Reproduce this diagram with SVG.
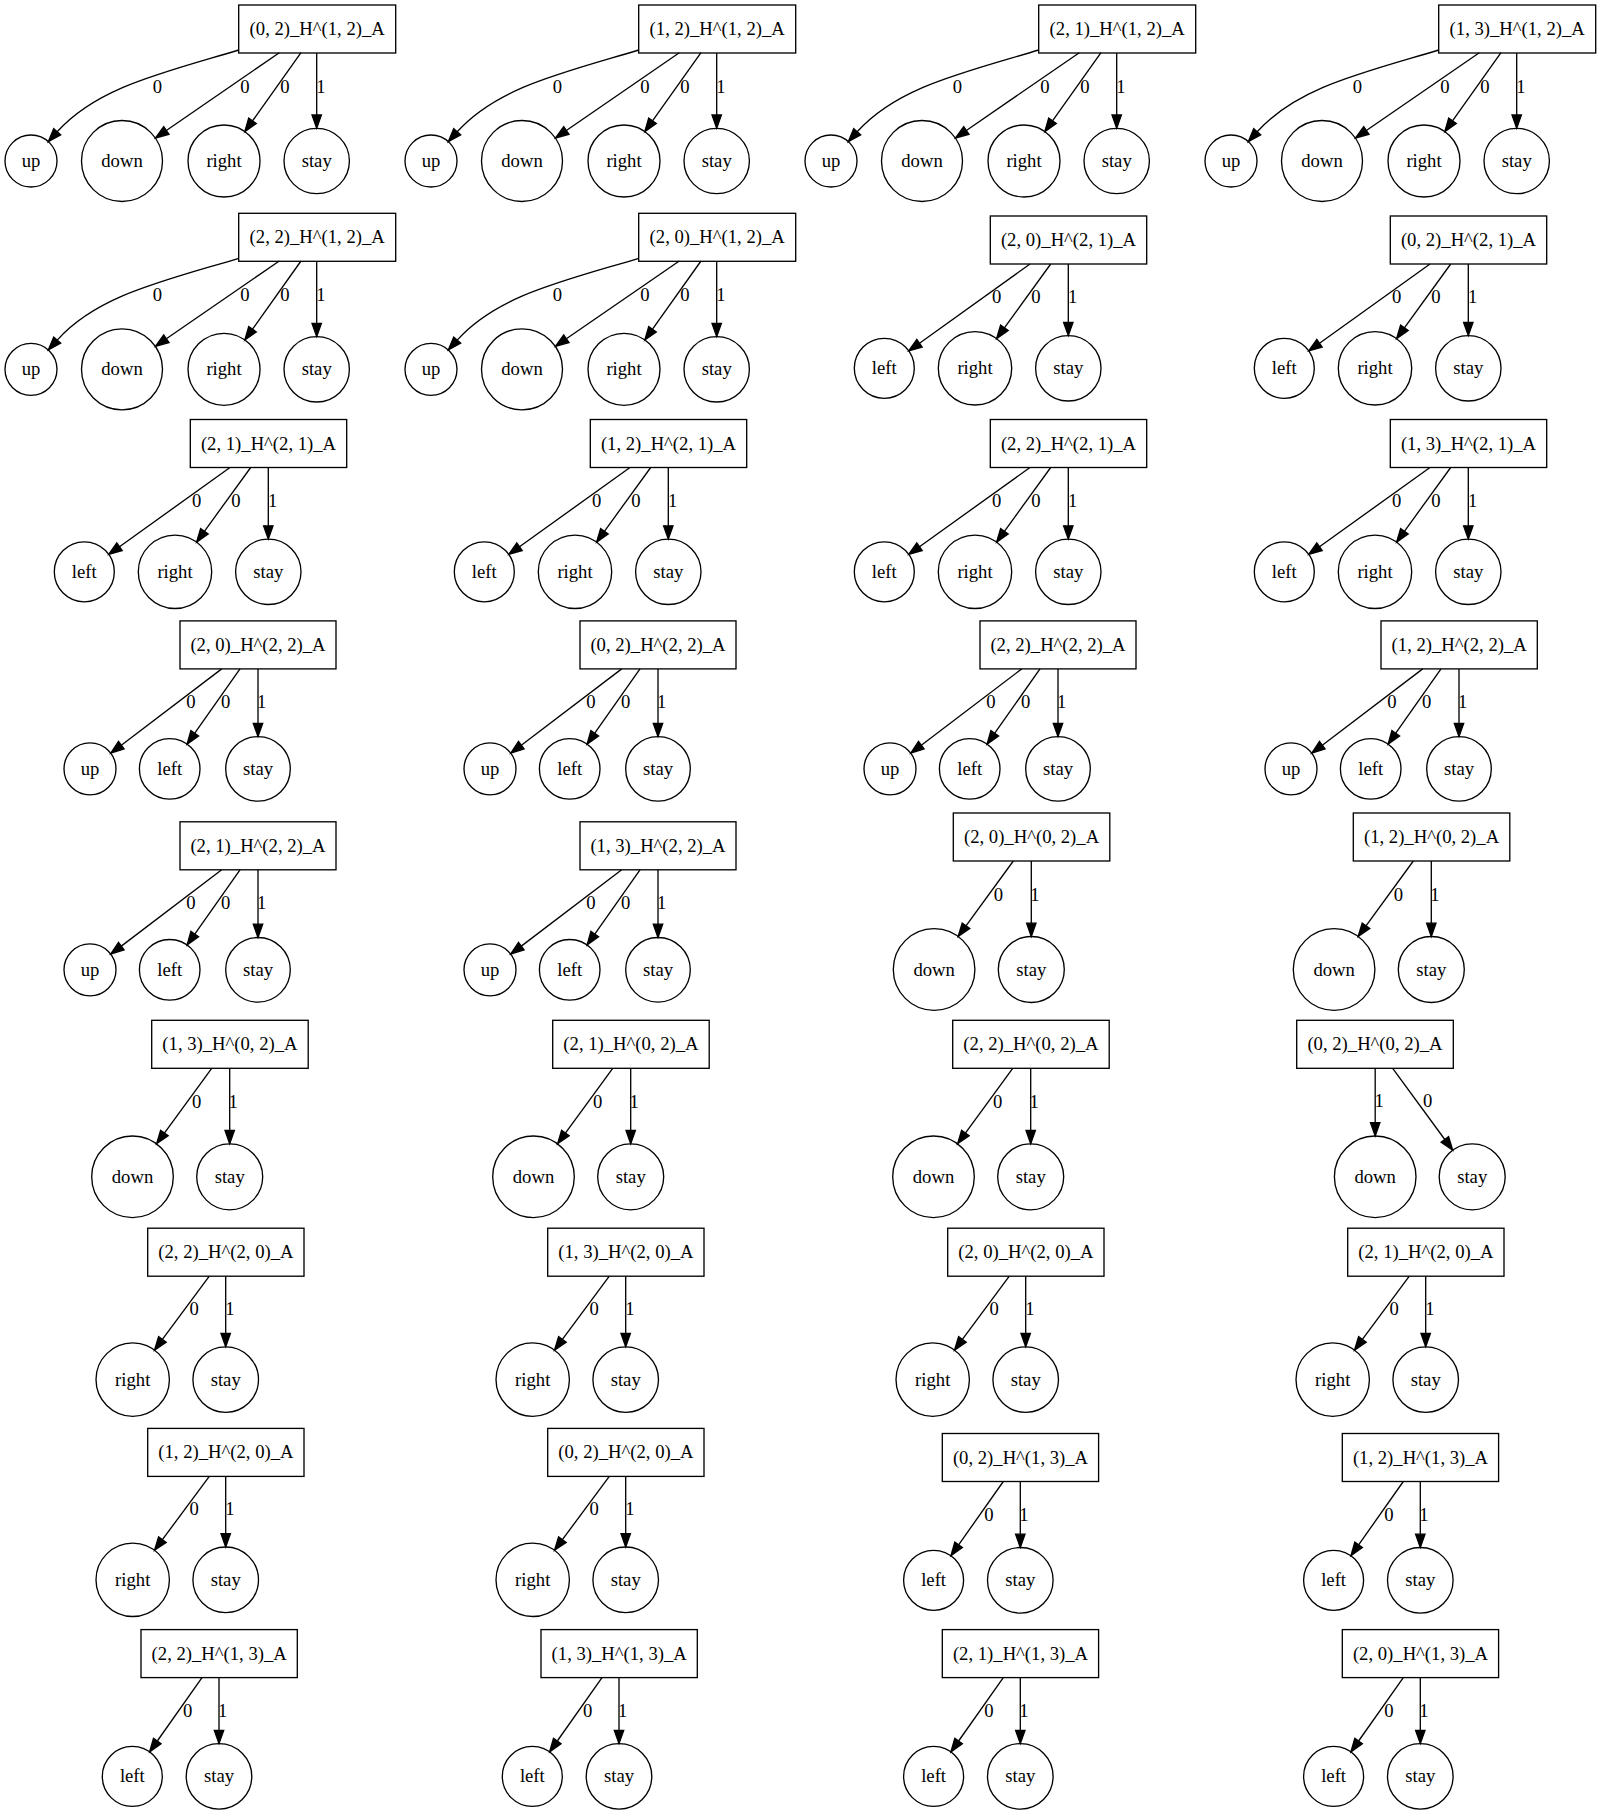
<svg xmlns="http://www.w3.org/2000/svg" width="1601" height="1815" viewBox="0 0 1601 1815">
<style>
.n rect,.n circle{fill:none;stroke:#000;stroke-width:1.33}
text{font-family:"Liberation Serif","Times New Roman",serif;font-size:18.67px;text-anchor:middle;fill:#000}
.e path{fill:none;stroke:#000;stroke-width:1.33}
.e polygon{fill:#000;stroke:#000;stroke-width:1.33}
</style>
<rect width="1601" height="1815" fill="#fff"/>
<g id="nodes">
<!-- T4 trees -->
<g id="c1r1" transform="translate(238.7,5)">
<g id="c1r1-root" class="n"><rect width="157" height="48"/><text x="78.5" y="30">(0, 2)_H^(1, 2)_A</text></g>
<g id="c1r1-up" class="n"><circle cx="-207.7" cy="156" r="26"/><text x="-207.7" y="162">up</text></g>
<g id="c1r1-down" class="n"><circle cx="-116.7" cy="156" r="40.5"/><text x="-116.7" y="162">down</text></g>
<g id="c1r1-right" class="n"><circle cx="-14.7" cy="156" r="36"/><text x="-14.7" y="162">right</text></g>
<g id="c1r1-stay" class="n"><circle cx="78" cy="156" r="32.7"/><text x="78" y="162">stay</text></g>
</g>
<g id="c1r2" transform="translate(238.7,213.3)">
<g id="c1r2-root" class="n"><rect width="157" height="48"/><text x="78.5" y="30">(2, 2)_H^(1, 2)_A</text></g>
<g id="c1r2-up" class="n"><circle cx="-207.7" cy="156" r="26"/><text x="-207.7" y="162">up</text></g>
<g id="c1r2-down" class="n"><circle cx="-116.7" cy="156" r="40.5"/><text x="-116.7" y="162">down</text></g>
<g id="c1r2-right" class="n"><circle cx="-14.7" cy="156" r="36"/><text x="-14.7" y="162">right</text></g>
<g id="c1r2-stay" class="n"><circle cx="78" cy="156" r="32.7"/><text x="78" y="162">stay</text></g>
</g>
<g id="c2r1" transform="translate(638.7,5)">
<g id="c2r1-root" class="n"><rect width="157" height="48"/><text x="78.5" y="30">(1, 2)_H^(1, 2)_A</text></g>
<g id="c2r1-up" class="n"><circle cx="-207.7" cy="156" r="26"/><text x="-207.7" y="162">up</text></g>
<g id="c2r1-down" class="n"><circle cx="-116.7" cy="156" r="40.5"/><text x="-116.7" y="162">down</text></g>
<g id="c2r1-right" class="n"><circle cx="-14.7" cy="156" r="36"/><text x="-14.7" y="162">right</text></g>
<g id="c2r1-stay" class="n"><circle cx="78" cy="156" r="32.7"/><text x="78" y="162">stay</text></g>
</g>
<g id="c2r2" transform="translate(638.7,213.3)">
<g id="c2r2-root" class="n"><rect width="157" height="48"/><text x="78.5" y="30">(2, 0)_H^(1, 2)_A</text></g>
<g id="c2r2-up" class="n"><circle cx="-207.7" cy="156" r="26"/><text x="-207.7" y="162">up</text></g>
<g id="c2r2-down" class="n"><circle cx="-116.7" cy="156" r="40.5"/><text x="-116.7" y="162">down</text></g>
<g id="c2r2-right" class="n"><circle cx="-14.7" cy="156" r="36"/><text x="-14.7" y="162">right</text></g>
<g id="c2r2-stay" class="n"><circle cx="78" cy="156" r="32.7"/><text x="78" y="162">stay</text></g>
</g>
<g id="c3r1" transform="translate(1038.7,5)">
<g id="c3r1-root" class="n"><rect width="157" height="48"/><text x="78.5" y="30">(2, 1)_H^(1, 2)_A</text></g>
<g id="c3r1-up" class="n"><circle cx="-207.7" cy="156" r="26"/><text x="-207.7" y="162">up</text></g>
<g id="c3r1-down" class="n"><circle cx="-116.7" cy="156" r="40.5"/><text x="-116.7" y="162">down</text></g>
<g id="c3r1-right" class="n"><circle cx="-14.7" cy="156" r="36"/><text x="-14.7" y="162">right</text></g>
<g id="c3r1-stay" class="n"><circle cx="78" cy="156" r="32.7"/><text x="78" y="162">stay</text></g>
</g>
<g id="c4r1" transform="translate(1438.7,5)">
<g id="c4r1-root" class="n"><rect width="157" height="48"/><text x="78.5" y="30">(1, 3)_H^(1, 2)_A</text></g>
<g id="c4r1-up" class="n"><circle cx="-207.7" cy="156" r="26"/><text x="-207.7" y="162">up</text></g>
<g id="c4r1-down" class="n"><circle cx="-116.7" cy="156" r="40.5"/><text x="-116.7" y="162">down</text></g>
<g id="c4r1-right" class="n"><circle cx="-14.7" cy="156" r="36"/><text x="-14.7" y="162">right</text></g>
<g id="c4r1-stay" class="n"><circle cx="78" cy="156" r="32.7"/><text x="78" y="162">stay</text></g>
</g>
<!-- T3a trees: left right stay -->
<g id="c1r3" transform="translate(190.3,419.5)">
<g id="c1r3-root" class="n"><rect width="156.4" height="48"/><text x="78.2" y="30">(2, 1)_H^(2, 1)_A</text></g>
<g id="c1r3-left" class="n"><circle cx="-106" cy="152.3" r="30"/><text x="-106" y="158.3">left</text></g>
<g id="c1r3-right" class="n"><circle cx="-15.3" cy="152.3" r="36.7"/><text x="-15.3" y="158.3">right</text></g>
<g id="c1r3-stay" class="n"><circle cx="78" cy="152.3" r="32.7"/><text x="78" y="158.3">stay</text></g>
</g>
<g id="c2r3" transform="translate(590.3,419.5)">
<g id="c2r3-root" class="n"><rect width="156.4" height="48"/><text x="78.2" y="30">(1, 2)_H^(2, 1)_A</text></g>
<g id="c2r3-left" class="n"><circle cx="-106" cy="152.3" r="30"/><text x="-106" y="158.3">left</text></g>
<g id="c2r3-right" class="n"><circle cx="-15.3" cy="152.3" r="36.7"/><text x="-15.3" y="158.3">right</text></g>
<g id="c2r3-stay" class="n"><circle cx="78" cy="152.3" r="32.7"/><text x="78" y="158.3">stay</text></g>
</g>
<g id="c3r2" transform="translate(990.3,216)">
<g id="c3r2-root" class="n"><rect width="156.4" height="48"/><text x="78.2" y="30">(2, 0)_H^(2, 1)_A</text></g>
<g id="c3r2-left" class="n"><circle cx="-106" cy="152.3" r="30"/><text x="-106" y="158.3">left</text></g>
<g id="c3r2-right" class="n"><circle cx="-15.3" cy="152.3" r="36.7"/><text x="-15.3" y="158.3">right</text></g>
<g id="c3r2-stay" class="n"><circle cx="78" cy="152.3" r="32.7"/><text x="78" y="158.3">stay</text></g>
</g>
<g id="c3r3" transform="translate(990.3,419.5)">
<g id="c3r3-root" class="n"><rect width="156.4" height="48"/><text x="78.2" y="30">(2, 2)_H^(2, 1)_A</text></g>
<g id="c3r3-left" class="n"><circle cx="-106" cy="152.3" r="30"/><text x="-106" y="158.3">left</text></g>
<g id="c3r3-right" class="n"><circle cx="-15.3" cy="152.3" r="36.7"/><text x="-15.3" y="158.3">right</text></g>
<g id="c3r3-stay" class="n"><circle cx="78" cy="152.3" r="32.7"/><text x="78" y="158.3">stay</text></g>
</g>
<g id="c4r2" transform="translate(1390.3,216)">
<g id="c4r2-root" class="n"><rect width="156.4" height="48"/><text x="78.2" y="30">(0, 2)_H^(2, 1)_A</text></g>
<g id="c4r2-left" class="n"><circle cx="-106" cy="152.3" r="30"/><text x="-106" y="158.3">left</text></g>
<g id="c4r2-right" class="n"><circle cx="-15.3" cy="152.3" r="36.7"/><text x="-15.3" y="158.3">right</text></g>
<g id="c4r2-stay" class="n"><circle cx="78" cy="152.3" r="32.7"/><text x="78" y="158.3">stay</text></g>
</g>
<g id="c4r3" transform="translate(1390.3,419.5)">
<g id="c4r3-root" class="n"><rect width="156.4" height="48"/><text x="78.2" y="30">(1, 3)_H^(2, 1)_A</text></g>
<g id="c4r3-left" class="n"><circle cx="-106" cy="152.3" r="30"/><text x="-106" y="158.3">left</text></g>
<g id="c4r3-right" class="n"><circle cx="-15.3" cy="152.3" r="36.7"/><text x="-15.3" y="158.3">right</text></g>
<g id="c4r3-stay" class="n"><circle cx="78" cy="152.3" r="32.7"/><text x="78" y="158.3">stay</text></g>
</g>
<!-- T3b trees: up left stay -->
<g id="c1r4" transform="translate(180,620.9)">
<g id="c1r4-root" class="n"><rect width="156" height="48"/><text x="78" y="30">(2, 0)_H^(2, 2)_A</text></g>
<g id="c1r4-up" class="n"><circle cx="-90" cy="148" r="26"/><text x="-90" y="154">up</text></g>
<g id="c1r4-left" class="n"><circle cx="-10.3" cy="148" r="30.3"/><text x="-10.3" y="154">left</text></g>
<g id="c1r4-stay" class="n"><circle cx="78" cy="148" r="32.3"/><text x="78" y="154">stay</text></g>
</g>
<g id="c1r5" transform="translate(180,821.8)">
<g id="c1r5-root" class="n"><rect width="156" height="48"/><text x="78" y="30">(2, 1)_H^(2, 2)_A</text></g>
<g id="c1r5-up" class="n"><circle cx="-90" cy="148" r="26"/><text x="-90" y="154">up</text></g>
<g id="c1r5-left" class="n"><circle cx="-10.3" cy="148" r="30.3"/><text x="-10.3" y="154">left</text></g>
<g id="c1r5-stay" class="n"><circle cx="78" cy="148" r="32.3"/><text x="78" y="154">stay</text></g>
</g>
<g id="c2r4" transform="translate(580,620.9)">
<g id="c2r4-root" class="n"><rect width="156" height="48"/><text x="78" y="30">(0, 2)_H^(2, 2)_A</text></g>
<g id="c2r4-up" class="n"><circle cx="-90" cy="148" r="26"/><text x="-90" y="154">up</text></g>
<g id="c2r4-left" class="n"><circle cx="-10.3" cy="148" r="30.3"/><text x="-10.3" y="154">left</text></g>
<g id="c2r4-stay" class="n"><circle cx="78" cy="148" r="32.3"/><text x="78" y="154">stay</text></g>
</g>
<g id="c2r5" transform="translate(580,821.8)">
<g id="c2r5-root" class="n"><rect width="156" height="48"/><text x="78" y="30">(1, 3)_H^(2, 2)_A</text></g>
<g id="c2r5-up" class="n"><circle cx="-90" cy="148" r="26"/><text x="-90" y="154">up</text></g>
<g id="c2r5-left" class="n"><circle cx="-10.3" cy="148" r="30.3"/><text x="-10.3" y="154">left</text></g>
<g id="c2r5-stay" class="n"><circle cx="78" cy="148" r="32.3"/><text x="78" y="154">stay</text></g>
</g>
<g id="c3r4" transform="translate(980,620.9)">
<g id="c3r4-root" class="n"><rect width="156" height="48"/><text x="78" y="30">(2, 2)_H^(2, 2)_A</text></g>
<g id="c3r4-up" class="n"><circle cx="-90" cy="148" r="26"/><text x="-90" y="154">up</text></g>
<g id="c3r4-left" class="n"><circle cx="-10.3" cy="148" r="30.3"/><text x="-10.3" y="154">left</text></g>
<g id="c3r4-stay" class="n"><circle cx="78" cy="148" r="32.3"/><text x="78" y="154">stay</text></g>
</g>
<g id="c4r4" transform="translate(1381,620.9)">
<g id="c4r4-root" class="n"><rect width="156.3" height="48"/><text x="78.2" y="30">(1, 2)_H^(2, 2)_A</text></g>
<g id="c4r4-up" class="n"><circle cx="-90" cy="148" r="26"/><text x="-90" y="154">up</text></g>
<g id="c4r4-left" class="n"><circle cx="-10.3" cy="148" r="30.3"/><text x="-10.3" y="154">left</text></g>
<g id="c4r4-stay" class="n"><circle cx="78" cy="148" r="32.3"/><text x="78" y="154">stay</text></g>
</g>
<!-- T2 trees: down stay -->
<g id="c1r6" transform="translate(151.7,1020.3)">
<g id="c1r6-root" class="n"><rect width="156.5" height="48"/><text x="78.25" y="30">(1, 3)_H^(0, 2)_A</text></g>
<g id="c1r6-down" class="n"><circle cx="-19.2" cy="156.5" r="40.8"/><text x="-19.2" y="162.5">down</text></g>
<g id="c1r6-stay" class="n"><circle cx="78" cy="156.5" r="33"/><text x="78" y="162.5">stay</text></g>
</g>
<g id="c2r6" transform="translate(552.7,1020.3)">
<g id="c2r6-root" class="n"><rect width="156.5" height="48"/><text x="78.25" y="30">(2, 1)_H^(0, 2)_A</text></g>
<g id="c2r6-down" class="n"><circle cx="-19.2" cy="156.5" r="40.8"/><text x="-19.2" y="162.5">down</text></g>
<g id="c2r6-stay" class="n"><circle cx="78" cy="156.5" r="33"/><text x="78" y="162.5">stay</text></g>
</g>
<g id="c3r5" transform="translate(953.3,813)">
<g id="c3r5-root" class="n"><rect width="156.5" height="48"/><text x="78.25" y="30">(2, 0)_H^(0, 2)_A</text></g>
<g id="c3r5-down" class="n"><circle cx="-19.2" cy="156.5" r="40.8"/><text x="-19.2" y="162.5">down</text></g>
<g id="c3r5-stay" class="n"><circle cx="78" cy="156.5" r="33"/><text x="78" y="162.5">stay</text></g>
</g>
<g id="c3r6" transform="translate(952.7,1020.3)">
<g id="c3r6-root" class="n"><rect width="156.5" height="48"/><text x="78.25" y="30">(2, 2)_H^(0, 2)_A</text></g>
<g id="c3r6-down" class="n"><circle cx="-19.2" cy="156.5" r="40.8"/><text x="-19.2" y="162.5">down</text></g>
<g id="c3r6-stay" class="n"><circle cx="78" cy="156.5" r="33"/><text x="78" y="162.5">stay</text></g>
</g>
<g id="c4r5" transform="translate(1353.3,813)">
<g id="c4r5-root" class="n"><rect width="156.5" height="48"/><text x="78.25" y="30">(1, 2)_H^(0, 2)_A</text></g>
<g id="c4r5-down" class="n"><circle cx="-19.2" cy="156.5" r="40.8"/><text x="-19.2" y="162.5">down</text></g>
<g id="c4r5-stay" class="n"><circle cx="78" cy="156.5" r="33"/><text x="78" y="162.5">stay</text></g>
</g>
<!-- T2s special -->
<g id="c4r6" transform="translate(1296.7,1020.3)">
<g id="c4r6-root" class="n"><rect width="156.6" height="48"/><text x="78.3" y="30">(0, 2)_H^(0, 2)_A</text></g>
<g id="c4r6-down" class="n"><circle cx="78.5" cy="156.5" r="40.8"/><text x="78.5" y="162.5">down</text></g>
<g id="c4r6-stay" class="n"><circle cx="175.5" cy="156.5" r="33"/><text x="175.5" y="162.5">stay</text></g>
</g>
<!-- T2r trees: right stay -->
<g id="c1r7" transform="translate(147.7,1228.2)">
<g id="c1r7-root" class="n"><rect width="156.3" height="48"/><text x="78.2" y="30">(2, 2)_H^(2, 0)_A</text></g>
<g id="c1r7-right" class="n"><circle cx="-15" cy="151.4" r="36.7"/><text x="-15" y="157.4">right</text></g>
<g id="c1r7-stay" class="n"><circle cx="78" cy="151.4" r="32.8"/><text x="78" y="157.4">stay</text></g>
</g>
<g id="c1r8" transform="translate(147.7,1428.4)">
<g id="c1r8-root" class="n"><rect width="156.3" height="48"/><text x="78.2" y="30">(1, 2)_H^(2, 0)_A</text></g>
<g id="c1r8-right" class="n"><circle cx="-15" cy="151.4" r="36.7"/><text x="-15" y="157.4">right</text></g>
<g id="c1r8-stay" class="n"><circle cx="78" cy="151.4" r="32.8"/><text x="78" y="157.4">stay</text></g>
</g>
<g id="c2r7" transform="translate(547.7,1228.2)">
<g id="c2r7-root" class="n"><rect width="156.3" height="48"/><text x="78.2" y="30">(1, 3)_H^(2, 0)_A</text></g>
<g id="c2r7-right" class="n"><circle cx="-15" cy="151.4" r="36.7"/><text x="-15" y="157.4">right</text></g>
<g id="c2r7-stay" class="n"><circle cx="78" cy="151.4" r="32.8"/><text x="78" y="157.4">stay</text></g>
</g>
<g id="c2r8" transform="translate(547.7,1428.4)">
<g id="c2r8-root" class="n"><rect width="156.3" height="48"/><text x="78.2" y="30">(0, 2)_H^(2, 0)_A</text></g>
<g id="c2r8-right" class="n"><circle cx="-15" cy="151.4" r="36.7"/><text x="-15" y="157.4">right</text></g>
<g id="c2r8-stay" class="n"><circle cx="78" cy="151.4" r="32.8"/><text x="78" y="157.4">stay</text></g>
</g>
<g id="c3r7" transform="translate(947.7,1228.2)">
<g id="c3r7-root" class="n"><rect width="156.3" height="48"/><text x="78.2" y="30">(2, 0)_H^(2, 0)_A</text></g>
<g id="c3r7-right" class="n"><circle cx="-15" cy="151.4" r="36.7"/><text x="-15" y="157.4">right</text></g>
<g id="c3r7-stay" class="n"><circle cx="78" cy="151.4" r="32.8"/><text x="78" y="157.4">stay</text></g>
</g>
<g id="c4r7" transform="translate(1347.7,1228.2)">
<g id="c4r7-root" class="n"><rect width="156.3" height="48"/><text x="78.2" y="30">(2, 1)_H^(2, 0)_A</text></g>
<g id="c4r7-right" class="n"><circle cx="-15" cy="151.4" r="36.7"/><text x="-15" y="157.4">right</text></g>
<g id="c4r7-stay" class="n"><circle cx="78" cy="151.4" r="32.8"/><text x="78" y="157.4">stay</text></g>
</g>
<!-- T2l trees: left stay -->
<g id="c1r9" transform="translate(141,1629.6)">
<g id="c1r9-root" class="n"><rect width="156.3" height="48"/><text x="78.2" y="30">(2, 2)_H^(1, 3)_A</text></g>
<g id="c1r9-left" class="n"><circle cx="-8.7" cy="146.8" r="30"/><text x="-8.7" y="152.8">left</text></g>
<g id="c1r9-stay" class="n"><circle cx="78" cy="146.8" r="32.8"/><text x="78" y="152.8">stay</text></g>
</g>
<g id="c2r9" transform="translate(541,1629.6)">
<g id="c2r9-root" class="n"><rect width="156.3" height="48"/><text x="78.2" y="30">(1, 3)_H^(1, 3)_A</text></g>
<g id="c2r9-left" class="n"><circle cx="-8.7" cy="146.8" r="30"/><text x="-8.7" y="152.8">left</text></g>
<g id="c2r9-stay" class="n"><circle cx="78" cy="146.8" r="32.8"/><text x="78" y="152.8">stay</text></g>
</g>
<g id="c3r8" transform="translate(942.3,1433.5)">
<g id="c3r8-root" class="n"><rect width="156.3" height="48"/><text x="78.2" y="30">(0, 2)_H^(1, 3)_A</text></g>
<g id="c3r8-left" class="n"><circle cx="-8.7" cy="146.8" r="30"/><text x="-8.7" y="152.8">left</text></g>
<g id="c3r8-stay" class="n"><circle cx="78" cy="146.8" r="32.8"/><text x="78" y="152.8">stay</text></g>
</g>
<g id="c3r9" transform="translate(942.3,1629.6)">
<g id="c3r9-root" class="n"><rect width="156.3" height="48"/><text x="78.2" y="30">(2, 1)_H^(1, 3)_A</text></g>
<g id="c3r9-left" class="n"><circle cx="-8.7" cy="146.8" r="30"/><text x="-8.7" y="152.8">left</text></g>
<g id="c3r9-stay" class="n"><circle cx="78" cy="146.8" r="32.8"/><text x="78" y="152.8">stay</text></g>
</g>
<g id="c4r8" transform="translate(1342.3,1433.5)">
<g id="c4r8-root" class="n"><rect width="156.3" height="48"/><text x="78.2" y="30">(1, 2)_H^(1, 3)_A</text></g>
<g id="c4r8-left" class="n"><circle cx="-8.7" cy="146.8" r="30"/><text x="-8.7" y="152.8">left</text></g>
<g id="c4r8-stay" class="n"><circle cx="78" cy="146.8" r="32.8"/><text x="78" y="152.8">stay</text></g>
</g>
<g id="c4r9" transform="translate(1342.3,1629.6)">
<g id="c4r9-root" class="n"><rect width="156.3" height="48"/><text x="78.2" y="30">(2, 0)_H^(1, 3)_A</text></g>
<g id="c4r9-left" class="n"><circle cx="-8.7" cy="146.8" r="30"/><text x="-8.7" y="152.8">left</text></g>
<g id="c4r9-stay" class="n"><circle cx="78" cy="146.8" r="32.8"/><text x="78" y="152.8">stay</text></g>
</g>
</g>
<g id="connectors" class="e">
<!-- T4 -->
<g transform="translate(238.7,5)">
<path d="M0,45 C-76.6,68.1 -141.4,82.1 -181.5,126.8"/><polygon points="-190.4,136.7 -178,129.9 -185,123.7"/><text x="-81.4" y="87.5">0</text>
<path d="M40.6,47.7 L-72.35,125.5"/><polygon points="-83.3,133 -69.7,129.3 -75,121.6"/><text x="6.3" y="87.5">0</text>
<path d="M62.3,47.7 L13.8,115.9"/><polygon points="6.1,126.7 17.6,118.6 10,113.2"/><text x="46.3" y="87.5">0</text>
<path d="M78,48 L78,110"/><polygon points="78,123.3 73.3,110 82.7,110"/><text x="82.3" y="87.5">1</text>
</g>
<g transform="translate(238.7,213.3)">
<path d="M0,45 C-76.6,68.1 -141.4,82.1 -181.5,126.8"/><polygon points="-190.4,136.7 -178,129.9 -185,123.7"/><text x="-81.4" y="87.5">0</text>
<path d="M40.6,47.7 L-72.35,125.5"/><polygon points="-83.3,133 -69.7,129.3 -75,121.6"/><text x="6.3" y="87.5">0</text>
<path d="M62.3,47.7 L13.8,115.9"/><polygon points="6.1,126.7 17.6,118.6 10,113.2"/><text x="46.3" y="87.5">0</text>
<path d="M78,48 L78,110"/><polygon points="78,123.3 73.3,110 82.7,110"/><text x="82.3" y="87.5">1</text>
</g>
<g transform="translate(638.7,5)">
<path d="M0,45 C-76.6,68.1 -141.4,82.1 -181.5,126.8"/><polygon points="-190.4,136.7 -178,129.9 -185,123.7"/><text x="-81.4" y="87.5">0</text>
<path d="M40.6,47.7 L-72.35,125.5"/><polygon points="-83.3,133 -69.7,129.3 -75,121.6"/><text x="6.3" y="87.5">0</text>
<path d="M62.3,47.7 L13.8,115.9"/><polygon points="6.1,126.7 17.6,118.6 10,113.2"/><text x="46.3" y="87.5">0</text>
<path d="M78,48 L78,110"/><polygon points="78,123.3 73.3,110 82.7,110"/><text x="82.3" y="87.5">1</text>
</g>
<g transform="translate(638.7,213.3)">
<path d="M0,45 C-76.6,68.1 -141.4,82.1 -181.5,126.8"/><polygon points="-190.4,136.7 -178,129.9 -185,123.7"/><text x="-81.4" y="87.5">0</text>
<path d="M40.6,47.7 L-72.35,125.5"/><polygon points="-83.3,133 -69.7,129.3 -75,121.6"/><text x="6.3" y="87.5">0</text>
<path d="M62.3,47.7 L13.8,115.9"/><polygon points="6.1,126.7 17.6,118.6 10,113.2"/><text x="46.3" y="87.5">0</text>
<path d="M78,48 L78,110"/><polygon points="78,123.3 73.3,110 82.7,110"/><text x="82.3" y="87.5">1</text>
</g>
<g transform="translate(1038.7,5)">
<path d="M0,45 C-76.6,68.1 -141.4,82.1 -181.5,126.8"/><polygon points="-190.4,136.7 -178,129.9 -185,123.7"/><text x="-81.4" y="87.5">0</text>
<path d="M40.6,47.7 L-72.35,125.5"/><polygon points="-83.3,133 -69.7,129.3 -75,121.6"/><text x="6.3" y="87.5">0</text>
<path d="M62.3,47.7 L13.8,115.9"/><polygon points="6.1,126.7 17.6,118.6 10,113.2"/><text x="46.3" y="87.5">0</text>
<path d="M78,48 L78,110"/><polygon points="78,123.3 73.3,110 82.7,110"/><text x="82.3" y="87.5">1</text>
</g>
<g transform="translate(1438.7,5)">
<path d="M0,45 C-76.6,68.1 -141.4,82.1 -181.5,126.8"/><polygon points="-190.4,136.7 -178,129.9 -185,123.7"/><text x="-81.4" y="87.5">0</text>
<path d="M40.6,47.7 L-72.35,125.5"/><polygon points="-83.3,133 -69.7,129.3 -75,121.6"/><text x="6.3" y="87.5">0</text>
<path d="M62.3,47.7 L13.8,115.9"/><polygon points="6.1,126.7 17.6,118.6 10,113.2"/><text x="46.3" y="87.5">0</text>
<path d="M78,48 L78,110"/><polygon points="78,123.3 73.3,110 82.7,110"/><text x="82.3" y="87.5">1</text>
</g>
<!-- T3a -->
<g transform="translate(190.3,419.5)">
<path d="M39.7,48 L-70.8,127.2"/><polygon points="-81.6,134.9 -68.1,131 -73.5,123.4"/><text x="6.4" y="87.3">0</text>
<path d="M60.4,48 L14.1,111.8"/><polygon points="6.3,122.6 17.9,114.6 10.3,109.1"/><text x="45.7" y="87.3">0</text>
<path d="M78,48 L78,106.3"/><polygon points="78,119.6 73.3,106.3 82.7,106.3"/><text x="82.4" y="87.3">1</text>
</g>
<g transform="translate(590.3,419.5)">
<path d="M39.7,48 L-70.8,127.2"/><polygon points="-81.6,134.9 -68.1,131 -73.5,123.4"/><text x="6.4" y="87.3">0</text>
<path d="M60.4,48 L14.1,111.8"/><polygon points="6.3,122.6 17.9,114.6 10.3,109.1"/><text x="45.7" y="87.3">0</text>
<path d="M78,48 L78,106.3"/><polygon points="78,119.6 73.3,106.3 82.7,106.3"/><text x="82.4" y="87.3">1</text>
</g>
<g transform="translate(990.3,216)">
<path d="M39.7,48 L-70.8,127.2"/><polygon points="-81.6,134.9 -68.1,131 -73.5,123.4"/><text x="6.4" y="87.3">0</text>
<path d="M60.4,48 L14.1,111.8"/><polygon points="6.3,122.6 17.9,114.6 10.3,109.1"/><text x="45.7" y="87.3">0</text>
<path d="M78,48 L78,106.3"/><polygon points="78,119.6 73.3,106.3 82.7,106.3"/><text x="82.4" y="87.3">1</text>
</g>
<g transform="translate(990.3,419.5)">
<path d="M39.7,48 L-70.8,127.2"/><polygon points="-81.6,134.9 -68.1,131 -73.5,123.4"/><text x="6.4" y="87.3">0</text>
<path d="M60.4,48 L14.1,111.8"/><polygon points="6.3,122.6 17.9,114.6 10.3,109.1"/><text x="45.7" y="87.3">0</text>
<path d="M78,48 L78,106.3"/><polygon points="78,119.6 73.3,106.3 82.7,106.3"/><text x="82.4" y="87.3">1</text>
</g>
<g transform="translate(1390.3,216)">
<path d="M39.7,48 L-70.8,127.2"/><polygon points="-81.6,134.9 -68.1,131 -73.5,123.4"/><text x="6.4" y="87.3">0</text>
<path d="M60.4,48 L14.1,111.8"/><polygon points="6.3,122.6 17.9,114.6 10.3,109.1"/><text x="45.7" y="87.3">0</text>
<path d="M78,48 L78,106.3"/><polygon points="78,119.6 73.3,106.3 82.7,106.3"/><text x="82.4" y="87.3">1</text>
</g>
<g transform="translate(1390.3,419.5)">
<path d="M39.7,48 L-70.8,127.2"/><polygon points="-81.6,134.9 -68.1,131 -73.5,123.4"/><text x="6.4" y="87.3">0</text>
<path d="M60.4,48 L14.1,111.8"/><polygon points="6.3,122.6 17.9,114.6 10.3,109.1"/><text x="45.7" y="87.3">0</text>
<path d="M78,48 L78,106.3"/><polygon points="78,119.6 73.3,106.3 82.7,106.3"/><text x="82.4" y="87.3">1</text>
</g>
<!-- T3b -->
<g transform="translate(180,620.9)">
<path d="M41.7,48 L-58.7,124.3"/><polygon points="-69.3,132.3 -55.9,128 -61.5,120.6"/><text x="11" y="87.5">0</text>
<path d="M60,48 L14.75,112.3"/><polygon points="7.1,123.2 18.6,115 10.9,109.6"/><text x="45.7" y="87.5">0</text>
<path d="M78,48 L78,102.4"/><polygon points="78,115.7 73.3,102.4 82.7,102.4"/><text x="81.7" y="87.5">1</text>
</g>
<g transform="translate(180,821.8)">
<path d="M41.7,48 L-58.7,124.3"/><polygon points="-69.3,132.3 -55.9,128 -61.5,120.6"/><text x="11" y="87.5">0</text>
<path d="M60,48 L14.75,112.3"/><polygon points="7.1,123.2 18.6,115 10.9,109.6"/><text x="45.7" y="87.5">0</text>
<path d="M78,48 L78,102.4"/><polygon points="78,115.7 73.3,102.4 82.7,102.4"/><text x="81.7" y="87.5">1</text>
</g>
<g transform="translate(580,620.9)">
<path d="M41.7,48 L-58.7,124.3"/><polygon points="-69.3,132.3 -55.9,128 -61.5,120.6"/><text x="11" y="87.5">0</text>
<path d="M60,48 L14.75,112.3"/><polygon points="7.1,123.2 18.6,115 10.9,109.6"/><text x="45.7" y="87.5">0</text>
<path d="M78,48 L78,102.4"/><polygon points="78,115.7 73.3,102.4 82.7,102.4"/><text x="81.7" y="87.5">1</text>
</g>
<g transform="translate(580,821.8)">
<path d="M41.7,48 L-58.7,124.3"/><polygon points="-69.3,132.3 -55.9,128 -61.5,120.6"/><text x="11" y="87.5">0</text>
<path d="M60,48 L14.75,112.3"/><polygon points="7.1,123.2 18.6,115 10.9,109.6"/><text x="45.7" y="87.5">0</text>
<path d="M78,48 L78,102.4"/><polygon points="78,115.7 73.3,102.4 82.7,102.4"/><text x="81.7" y="87.5">1</text>
</g>
<g transform="translate(980,620.9)">
<path d="M41.7,48 L-58.7,124.3"/><polygon points="-69.3,132.3 -55.9,128 -61.5,120.6"/><text x="11" y="87.5">0</text>
<path d="M60,48 L14.75,112.3"/><polygon points="7.1,123.2 18.6,115 10.9,109.6"/><text x="45.7" y="87.5">0</text>
<path d="M78,48 L78,102.4"/><polygon points="78,115.7 73.3,102.4 82.7,102.4"/><text x="81.7" y="87.5">1</text>
</g>
<g transform="translate(1381,620.9)">
<path d="M41.7,48 L-58.7,124.3"/><polygon points="-69.3,132.3 -55.9,128 -61.5,120.6"/><text x="11" y="87.5">0</text>
<path d="M60,48 L14.75,112.3"/><polygon points="7.1,123.2 18.6,115 10.9,109.6"/><text x="45.7" y="87.5">0</text>
<path d="M78,48 L78,102.4"/><polygon points="78,115.7 73.3,102.4 82.7,102.4"/><text x="81.7" y="87.5">1</text>
</g>
<!-- T2 -->
<g transform="translate(151.7,1020.3)">
<path d="M60,48 L12.7,112.8"/><polygon points="4.86,123.5 16.5,115.5 8.9,110"/><text x="45" y="87.5">0</text>
<path d="M78,48 L78,110.2"/><polygon points="78,123.5 73.3,110.2 82.7,110.2"/><text x="81.6" y="87.5">1</text>
</g>
<g transform="translate(552.7,1020.3)">
<path d="M60,48 L12.7,112.8"/><polygon points="4.86,123.5 16.5,115.5 8.9,110"/><text x="45" y="87.5">0</text>
<path d="M78,48 L78,110.2"/><polygon points="78,123.5 73.3,110.2 82.7,110.2"/><text x="81.6" y="87.5">1</text>
</g>
<g transform="translate(953.3,813)">
<path d="M60,48 L12.7,112.8"/><polygon points="4.86,123.5 16.5,115.5 8.9,110"/><text x="45" y="87.5">0</text>
<path d="M78,48 L78,110.2"/><polygon points="78,123.5 73.3,110.2 82.7,110.2"/><text x="81.6" y="87.5">1</text>
</g>
<g transform="translate(952.7,1020.3)">
<path d="M60,48 L12.7,112.8"/><polygon points="4.86,123.5 16.5,115.5 8.9,110"/><text x="45" y="87.5">0</text>
<path d="M78,48 L78,110.2"/><polygon points="78,123.5 73.3,110.2 82.7,110.2"/><text x="81.6" y="87.5">1</text>
</g>
<g transform="translate(1353.3,813)">
<path d="M60,48 L12.7,112.8"/><polygon points="4.86,123.5 16.5,115.5 8.9,110"/><text x="45" y="87.5">0</text>
<path d="M78,48 L78,110.2"/><polygon points="78,123.5 73.3,110.2 82.7,110.2"/><text x="81.6" y="87.5">1</text>
</g>
<!-- T2s -->
<g transform="translate(1296.7,1020.3)">
<path d="M78.5,48 L78.5,102.4"/><polygon points="78.5,115.7 73.8,102.4 83.2,102.4"/><text x="82.6" y="87">1</text>
<path d="M96,48 L148.1,119.2"/><polygon points="156,129.9 151.9,116.4 144.4,122"/><text x="131" y="87">0</text>
</g>
<!-- T2r -->
<g transform="translate(147.7,1228.2)">
<path d="M61.6,48 L14.7,111.2"/><polygon points="6.8,121.9 18.5,114 10.9,108.4"/><text x="46.6" y="87">0</text>
<path d="M78,48 L78,105.3"/><polygon points="78,118.6 73.3,105.3 82.7,105.3"/><text x="82.3" y="87">1</text>
</g>
<g transform="translate(147.7,1428.4)">
<path d="M61.6,48 L14.7,111.2"/><polygon points="6.8,121.9 18.5,114 10.9,108.4"/><text x="46.6" y="87">0</text>
<path d="M78,48 L78,105.3"/><polygon points="78,118.6 73.3,105.3 82.7,105.3"/><text x="82.3" y="87">1</text>
</g>
<g transform="translate(547.7,1228.2)">
<path d="M61.6,48 L14.7,111.2"/><polygon points="6.8,121.9 18.5,114 10.9,108.4"/><text x="46.6" y="87">0</text>
<path d="M78,48 L78,105.3"/><polygon points="78,118.6 73.3,105.3 82.7,105.3"/><text x="82.3" y="87">1</text>
</g>
<g transform="translate(547.7,1428.4)">
<path d="M61.6,48 L14.7,111.2"/><polygon points="6.8,121.9 18.5,114 10.9,108.4"/><text x="46.6" y="87">0</text>
<path d="M78,48 L78,105.3"/><polygon points="78,118.6 73.3,105.3 82.7,105.3"/><text x="82.3" y="87">1</text>
</g>
<g transform="translate(947.7,1228.2)">
<path d="M61.6,48 L14.7,111.2"/><polygon points="6.8,121.9 18.5,114 10.9,108.4"/><text x="46.6" y="87">0</text>
<path d="M78,48 L78,105.3"/><polygon points="78,118.6 73.3,105.3 82.7,105.3"/><text x="82.3" y="87">1</text>
</g>
<g transform="translate(1347.7,1228.2)">
<path d="M61.6,48 L14.7,111.2"/><polygon points="6.8,121.9 18.5,114 10.9,108.4"/><text x="46.6" y="87">0</text>
<path d="M78,48 L78,105.3"/><polygon points="78,118.6 73.3,105.3 82.7,105.3"/><text x="82.3" y="87">1</text>
</g>
<!-- T2l -->
<g transform="translate(141,1629.6)">
<path d="M61,48 L16.3,111.4"/><polygon points="8.6,122.3 20.1,114.1 12.5,108.7"/><text x="46.7" y="87">0</text>
<path d="M78,48 L78,100.7"/><polygon points="78,114 73.3,100.7 82.7,100.7"/><text x="81.7" y="87">1</text>
</g>
<g transform="translate(541,1629.6)">
<path d="M61,48 L16.3,111.4"/><polygon points="8.6,122.3 20.1,114.1 12.5,108.7"/><text x="46.7" y="87">0</text>
<path d="M78,48 L78,100.7"/><polygon points="78,114 73.3,100.7 82.7,100.7"/><text x="81.7" y="87">1</text>
</g>
<g transform="translate(942.3,1433.5)">
<path d="M61,48 L16.3,111.4"/><polygon points="8.6,122.3 20.1,114.1 12.5,108.7"/><text x="46.7" y="87">0</text>
<path d="M78,48 L78,100.7"/><polygon points="78,114 73.3,100.7 82.7,100.7"/><text x="81.7" y="87">1</text>
</g>
<g transform="translate(942.3,1629.6)">
<path d="M61,48 L16.3,111.4"/><polygon points="8.6,122.3 20.1,114.1 12.5,108.7"/><text x="46.7" y="87">0</text>
<path d="M78,48 L78,100.7"/><polygon points="78,114 73.3,100.7 82.7,100.7"/><text x="81.7" y="87">1</text>
</g>
<g transform="translate(1342.3,1433.5)">
<path d="M61,48 L16.3,111.4"/><polygon points="8.6,122.3 20.1,114.1 12.5,108.7"/><text x="46.7" y="87">0</text>
<path d="M78,48 L78,100.7"/><polygon points="78,114 73.3,100.7 82.7,100.7"/><text x="81.7" y="87">1</text>
</g>
<g transform="translate(1342.3,1629.6)">
<path d="M61,48 L16.3,111.4"/><polygon points="8.6,122.3 20.1,114.1 12.5,108.7"/><text x="46.7" y="87">0</text>
<path d="M78,48 L78,100.7"/><polygon points="78,114 73.3,100.7 82.7,100.7"/><text x="81.7" y="87">1</text>
</g>
</g>
</svg>
